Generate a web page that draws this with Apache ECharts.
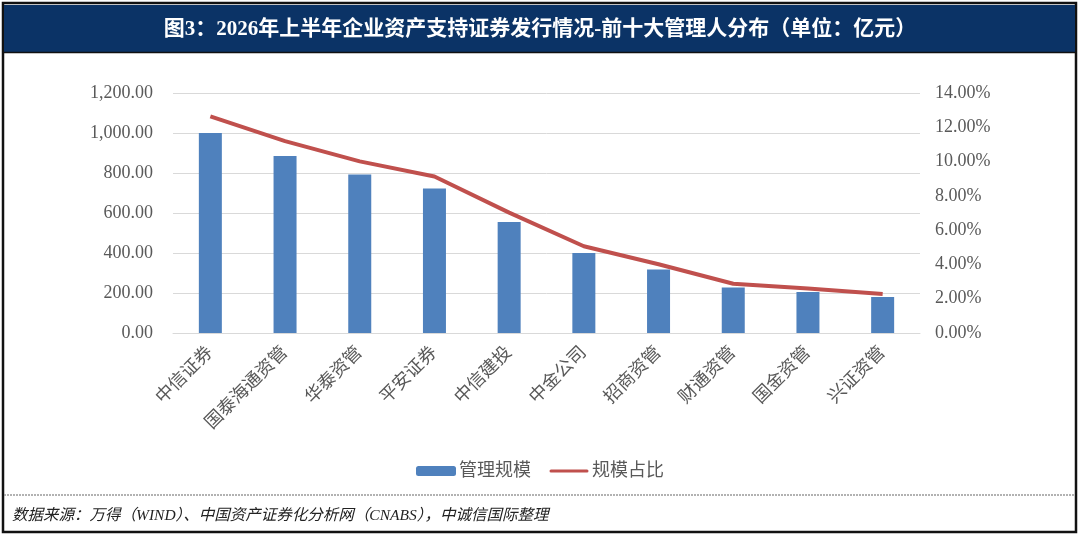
<!DOCTYPE html>
<html>
<head>
<meta charset="utf-8">
<script src="https://cdn.jsdelivr.net/npm/echarts@6/dist/echarts.min.js"></script>
<style>
  html, body { margin: 0; padding: 0; background: #fff; }
  #chartDiv { width: 1080px; height: 535px; }
</style>
</head>
<body>
<div id="chartDiv"></div>
<script>
// 前十大管理人
var managers = ['中信证券', '国泰海通资管', '华泰资管', '平安证券', '中信建投',
                '中金公司', '招商资管', '财通资管', '国金资管', '兴证资管'];
// 管理规模(亿元)
var scaleValues = [1000, 885, 792, 722, 555, 400, 317, 227, 205, 180];
// 规模占比(%)
var shareValues = [12.64, 11.19, 10.01, 9.13, 7.02, 5.06, 4.01, 2.87, 2.59, 2.28];

var titleText = '图3：2026年上半年企业资产支持证券发行情况-前十大管理人分布（单位：亿元）';
var sourceText = '数据来源：万得（WIND）、中国资产证券化分析网（CNABS），中诚信国际整理';

var serif = '"Liberation Serif", "Noto Sans CJK SC", serif';
var myChart = echarts.init(document.getElementById('chartDiv'));

var option = {
    backgroundColor: '#fff',
    animation: false,
    graphic: [
        // 外框
        { type: 'rect', shape: { x: 3, y: 3, width: 1073, height: 529 },
          style: { fill: 'none', stroke: '#111', lineWidth: 2.5 } },
        // 标题栏
        { type: 'rect', shape: { x: 4, y: 5, width: 1071, height: 47 },
          style: { fill: '#0B3366' } },
        { type: 'line', shape: { x1: 4, y1: 52.5, x2: 1075, y2: 52.5 },
          style: { stroke: '#111', lineWidth: 1.5 } },
        // 来源分隔线
        { type: 'line', shape: { x1: 4, y1: 495, x2: 1075, y2: 495 },
          style: { stroke: '#999', lineWidth: 1.5, lineDash: [2, 1] } }
    ],
    title: [
        {
            text: titleText,
            left: 'center',
            top: 14,
            textStyle: { color: '#fff', fontSize: 21, fontWeight: 'bold', fontFamily: serif }
        },
        {
            text: sourceText,
            left: 7,
            top: 503,
            textStyle: { color: '#222', fontSize: 15.5, fontWeight: 'normal', fontStyle: 'italic', fontFamily: serif }
        }
    ],
    legend: {
        data: [
            { name: '管理规模' },
            { name: '规模占比', icon: 'path://M0,0 L0,0 M2,3.5 L38,3.5 A1.5,1.5 0 0 1 38,6.5 L2,6.5 A1.5,1.5 0 0 1 2,3.5 Z M40,10 L40,10' }
        ],
        left: 'center',
        top: 457,
        itemWidth: 40,
        itemHeight: 10,
        itemGap: 18,
        textStyle: { color: '#595959', fontSize: 18, fontFamily: serif, padding: [0, 0, 0, -2] }
    },
    grid: { left: 173, right: 160, top: 93, bottom: 202 },
    xAxis: {
        type: 'category',
        data: managers,
        axisLine: { lineStyle: { color: '#d9d9d9' } },
        axisTick: { show: false },
        axisLabel: {
            rotate: 45,
            interval: 0,
            margin: 17,
            color: '#595959',
            fontSize: 18,
            fontFamily: serif
        }
    },
    yAxis: [
        {
            type: 'value',
            min: 0,
            max: 1200,
            interval: 200,
            axisLine: { show: false },
            axisTick: { show: false },
            splitLine: { lineStyle: { color: '#d9d9d9', width: 1 } },
            axisLabel: {
                margin: 20,
                color: '#595959',
                fontSize: 18,
                fontFamily: serif,
                formatter: function (v) {
                    return v.toLocaleString('en-US', { minimumFractionDigits: 2, maximumFractionDigits: 2 });
                }
            }
        },
        {
            type: 'value',
            min: 0,
            max: 14,
            interval: 2,
            axisLine: { show: false },
            axisTick: { show: false },
            splitLine: { show: false },
            axisLabel: {
                margin: 15,
                color: '#595959',
                fontSize: 18,
                fontFamily: serif,
                formatter: function (v) { return v.toFixed(2) + '%'; }
            }
        }
    ],
    series: [
        {
            name: '管理规模',
            type: 'bar',
            data: scaleValues,
            barWidth: 23,
            itemStyle: { color: '#4F81BD' }
        },
        {
            name: '规模占比',
            type: 'line',
            yAxisIndex: 1,
            data: shareValues,
            symbol: 'none',
            lineStyle: { color: '#C0504D', width: 4 },
            itemStyle: { color: '#C0504D' }
        }
    ]
};

myChart.setOption(option);
window.onresize = myChart.resize;
</script>
</body>
</html>
